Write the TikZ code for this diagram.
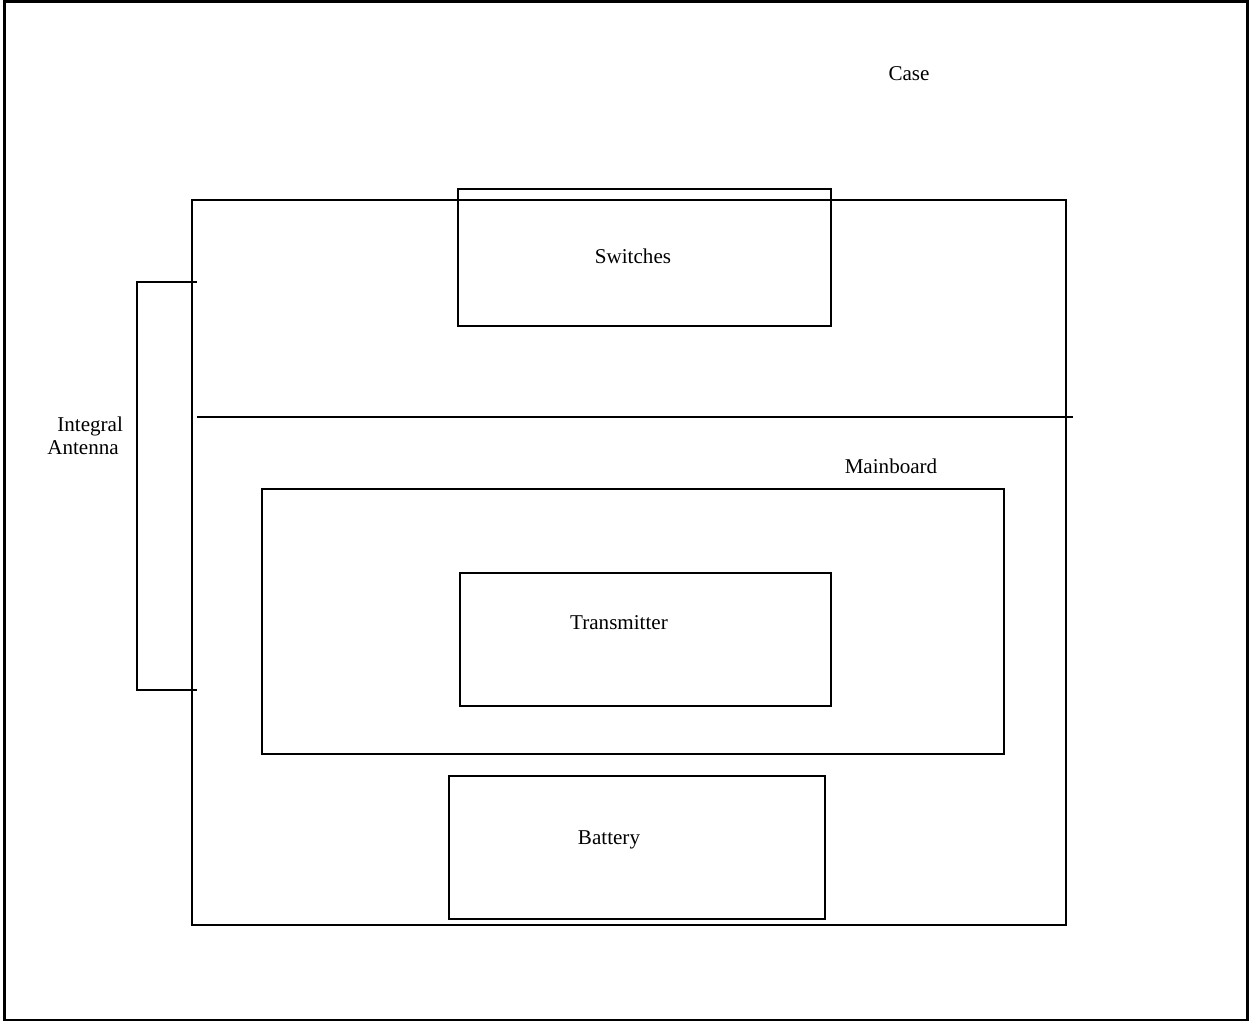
\documentclass[tikz,border=0pt]{standalone}
\usepackage{fontspec}
\setmainfont{Liberation Serif}
\usetikzlibrary{positioning}

\begin{document}
\begin{tikzpicture}[x=0.02cm,y=-0.02cm,
 part/.style={draw,line width=1.1pt,inner sep=0pt},
 lbl/.style={font=\fontsize{12}{13}\selectfont,inner sep=0pt,align=center},
 wire/.style={line width=1.1pt}]
 \useasboundingbox (0,0) rectangle (1249,1021);
 % outer frame
 \draw[line width=1.8pt] (4.5,1021) -- (4.5,1.5) -- (1247.5,1.5) -- (1247.5,1021);
 \draw[line width=0.6pt] (4.5,1020) -- (1247.5,1020);
 % case and its parts
 \node[part,minimum width=17.48cm,minimum height=14.5cm] (case) at (629,562.5) {};
 \node[lbl] (casetxt) at (909,74) {Case};
 \coordinate (divl) at (197,417);
 \coordinate (divr) at (1073,417);
 \draw[wire] (divl) -- (divr);
 \node[part,minimum width=7.46cm,minimum height=2.74cm] (switches) at (644.5,257.5) {};
 \node[lbl] (switchtxt) at (633,256) {Switches};
 \node[part,minimum width=14.84cm,minimum height=5.3cm] (mainboard) at (633,621.5) {};
 \node[lbl] (mbtxt) at (891,466) {Mainboard};
 \node[part,minimum width=7.42cm,minimum height=2.66cm] (transmitter) at (645.5,639.5) {};
 \node[lbl] (txtxt) at (619,623) {Transmitter};
 \node[part,minimum width=7.52cm,minimum height=2.86cm] (battery) at (637,847.5) {};
 \node[lbl] (battxt) at (609,840) {Battery};
 % antenna bracket
 \coordinate (antA) at (197,282);
 \coordinate (antB) at (197,690);
 \draw[wire] (antA) -- (137,282) -- (137,690) -- (antB);
 \node[lbl,align=left,anchor=west] (anttxt) at (47,436) {\hspace*{5.7pt}Integral\\Antenna};
\end{tikzpicture}
\end{document}
